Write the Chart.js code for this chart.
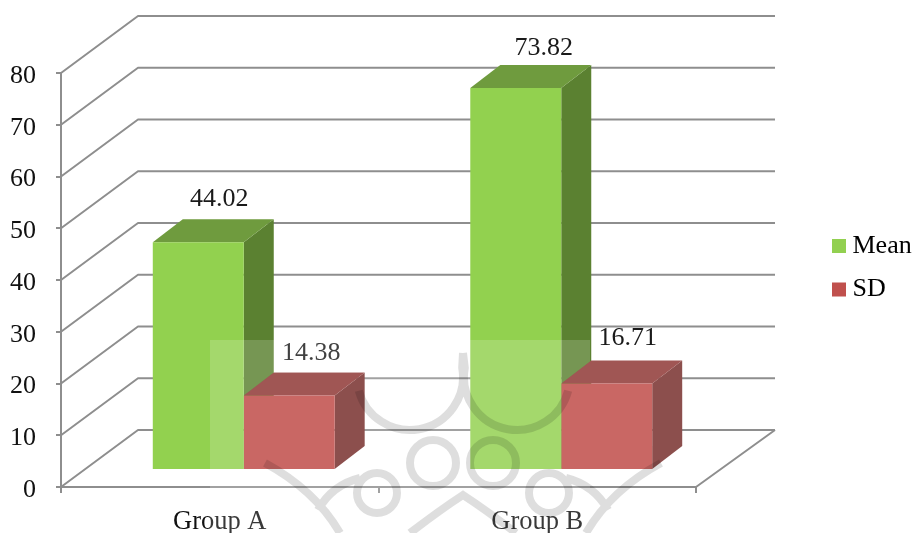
<!DOCTYPE html>
<html><head><meta charset="utf-8">
<style>html,body{margin:0;padding:0;background:#fff}canvas{display:block}</style>
<script src="https://cdn.jsdelivr.net/npm/chart.js@4"></script>
</head><body><canvas id="c" width="913" height="533"></canvas>
<script>
const categories = ['Group A', 'Group B'];
const meanValues = [44.02, 73.82];
const sdValues = [14.38, 16.71];
const seriesNames = ['Mean', 'SD'];
const valueLabels = [['44.02', '73.82'], ['14.38', '16.71']];

const FONT = '"Liberation Serif","Times New Roman",serif';
const GRID = '#8e8e8e';
const FACE = [{front:'#92D14F', top:'#6F9B3E', side:'#5B8131'}, {front:'#C96764', top:'#A05654', side:'#8C4F4D'}];
const LEGEND_COLORS = ['#92D050', '#C0504D'];
const WALL = {dx:77, dy:-57};
const DEPTH = {dx:30, dy:-23};
const BAR_SHIFT = {dx:24, dy:-17};
const LABEL_OFFSET = [[{x:21,y:-43},{x:28,y:-40}], [{x:22,y:-42},{x:21,y:-45}]];

const scene = {
  id:'scene',
  beforeLayout(chart){
    const l = chart.legend;
    if(l && !l._patched){
      const fit = l.fit;
      l.fit = function(){ fit.call(this); this.width = 217; };
      l._patched = true;
    }
  },
  afterLayout(chart){
    const l = chart.legend;
    l.left = 832 - l.options.labels.padding + 6.5; l.right = 913;
    l.top = 233 - l.options.labels.padding; l.bottom = 340;
  },
  beforeDatasetsDraw(chart){
    const {ctx, chartArea:a, scales:{y}} = chart;
    ctx.save();
    ctx.strokeStyle = GRID; ctx.lineWidth = 2; ctx.lineJoin = 'round'; ctx.lineCap='butt';
    y.ticks.forEach(t=>{
      const py = y.getPixelForValue(t.value);
      ctx.beginPath(); ctx.moveTo(a.left, py); ctx.lineTo(a.left+WALL.dx, py+WALL.dy);
      ctx.lineTo(a.right+WALL.dx+2, py+WALL.dy); ctx.stroke();
    });
    ctx.beginPath();
    ctx.moveTo(a.left, a.bottom); ctx.lineTo(a.right, a.bottom);
    ctx.lineTo(a.right+WALL.dx+2, a.bottom+WALL.dy); ctx.stroke();
    ctx.restore();

    ctx.save();
    ctx.translate(BAR_SHIFT.dx, BAR_SHIFT.dy);
    chart.data.datasets.forEach((ds,i)=>{
      chart.getDatasetMeta(i).data.forEach(b=>{
        const l=b.x-b.width/2, r=b.x+b.width/2, t=b.y, bot=b.base;
        ctx.fillStyle = FACE[i].side; ctx.beginPath();
        ctx.moveTo(r,t); ctx.lineTo(r+DEPTH.dx,t+DEPTH.dy); ctx.lineTo(r+DEPTH.dx,bot+DEPTH.dy); ctx.lineTo(r,bot); ctx.closePath(); ctx.fill();
        ctx.fillStyle = FACE[i].top; ctx.beginPath();
        ctx.moveTo(l,t); ctx.lineTo(l+DEPTH.dx,t+DEPTH.dy); ctx.lineTo(r+DEPTH.dx,t+DEPTH.dy); ctx.lineTo(r,t); ctx.closePath(); ctx.fill();
      });
    });
  },
  afterDatasetsDraw(chart){
    const {ctx} = chart;
    ctx.restore();
    ctx.save();
    ctx.font = '26px '+FONT; ctx.fillStyle='#1a1a1a'; ctx.textAlign='center'; ctx.textBaseline='middle';
    chart.data.datasets.forEach((ds,i)=>{
      chart.getDatasetMeta(i).data.forEach((b,j)=>{
        const o = LABEL_OFFSET[i][j];
        ctx.fillText(valueLabels[i][j], b.x+BAR_SHIFT.dx+o.x, b.y+BAR_SHIFT.dy+o.y);
      });
    });
    ctx.restore();
  },
  afterDraw(chart){
    const {ctx} = chart;
    ctx.save();
    // pale overlay of the page's watermark: it does not tint the SD blocks
    ctx.save();
    ctx.beginPath();
    ctx.rect(210,340,380,193);
    chart.getDatasetMeta(1).data.forEach(b=>{
      const l=b.x-b.width/2+BAR_SHIFT.dx, r=b.x+b.width/2+BAR_SHIFT.dx, t=b.y+BAR_SHIFT.dy, bot=b.base+BAR_SHIFT.dy;
      ctx.moveTo(l,t); ctx.lineTo(l+DEPTH.dx,t+DEPTH.dy); ctx.lineTo(r+DEPTH.dx,t+DEPTH.dy);
      ctx.lineTo(r+DEPTH.dx,bot+DEPTH.dy); ctx.lineTo(r,bot); ctx.lineTo(l,bot); ctx.closePath();
    });
    ctx.clip('evenodd');
    ctx.fillStyle='rgba(255,255,255,0.17)';
    ctx.fillRect(210,340,380,193);
    ctx.restore();
    ctx.strokeStyle='rgba(0,0,0,0.13)'; ctx.lineWidth=8; ctx.lineCap='butt';
    const deg = d=>d*Math.PI/180;
    ctx.beginPath();
    ctx.moveTo(463,353);
    ctx.arc(410,377,53,deg(-10),deg(165));
    ctx.moveTo(463,353);
    ctx.arc(517,377,53,deg(190),deg(15),true);
    ctx.moveTo(456,463); ctx.arc(433,463,23,0,Math.PI*2);
    ctx.moveTo(516,463); ctx.arc(493,463,23,0,Math.PI*2);
    ctx.moveTo(397,493); ctx.arc(377,493,20,0,Math.PI*2);
    ctx.moveTo(569,493); ctx.arc(549,493,20,0,Math.PI*2);
    ctx.moveTo(265,463); ctx.quadraticCurveTo(315,490,340,533);
    ctx.moveTo(661,463); ctx.quadraticCurveTo(611,490,586,533);
    ctx.moveTo(318,510); ctx.quadraticCurveTo(332,485,360,478);
    ctx.moveTo(608,510); ctx.quadraticCurveTo(594,485,566,478);
    ctx.moveTo(410,533); ctx.quadraticCurveTo(440,510,463,495); ctx.quadraticCurveTo(486,510,516,533);
    ctx.stroke();
    ctx.restore();
  }
};

new Chart(document.getElementById('c'), {
  type:'bar',
  data:{
    labels:categories,
    datasets:[
      {label:seriesNames[0], data:meanValues, backgroundColor:FACE[0].front, borderWidth:0},
      {label:seriesNames[1], data:sdValues, backgroundColor:FACE[1].front, borderWidth:0}
    ]
  },
  options:{
    responsive:false, animation:false, devicePixelRatio:1,
    layout:{padding:{top:73,left:0,right:0,bottom:0}},
    datasets:{bar:{categoryPercentage:0.573, barPercentage:1}},
    scales:{
      x:{
        grid:{drawOnChartArea:false, color:GRID, lineWidth:2, tickLength:6, offset:true},
        border:{display:false},
        ticks:{color:'#111', font:{family:FONT,size:26.5}, padding:13, maxRotation:0},
        afterFit(s){ s.height=46; }
      },
      y:{
        min:0,max:80,
        grid:{drawOnChartArea:false, color:GRID, lineWidth:2, tickLength:5},
        border:{display:true, color:GRID, width:2},
        ticks:{stepSize:10, color:'#111', font:{family:FONT,size:26}, padding:20, labelOffset:3},
        afterFit(s){ s.width=61; }
      }
    },
    plugins:{
      tooltip:{enabled:false},
      legend:{
        position:'right', align:'start',
        labels:{
          padding:17.5, boxWidth:1, boxHeight:1, color:'#111', font:{family:FONT,size:26},
          generateLabels(chart){
            return chart.data.datasets.map((d,i)=>({text:d.label, fillStyle:LEGEND_COLORS[i], strokeStyle:LEGEND_COLORS[i], lineWidth:13, lineJoin:'miter', datasetIndex:i}));
          }
        }
      }
    }
  },
  plugins:[scene]
});
</script></body></html>
